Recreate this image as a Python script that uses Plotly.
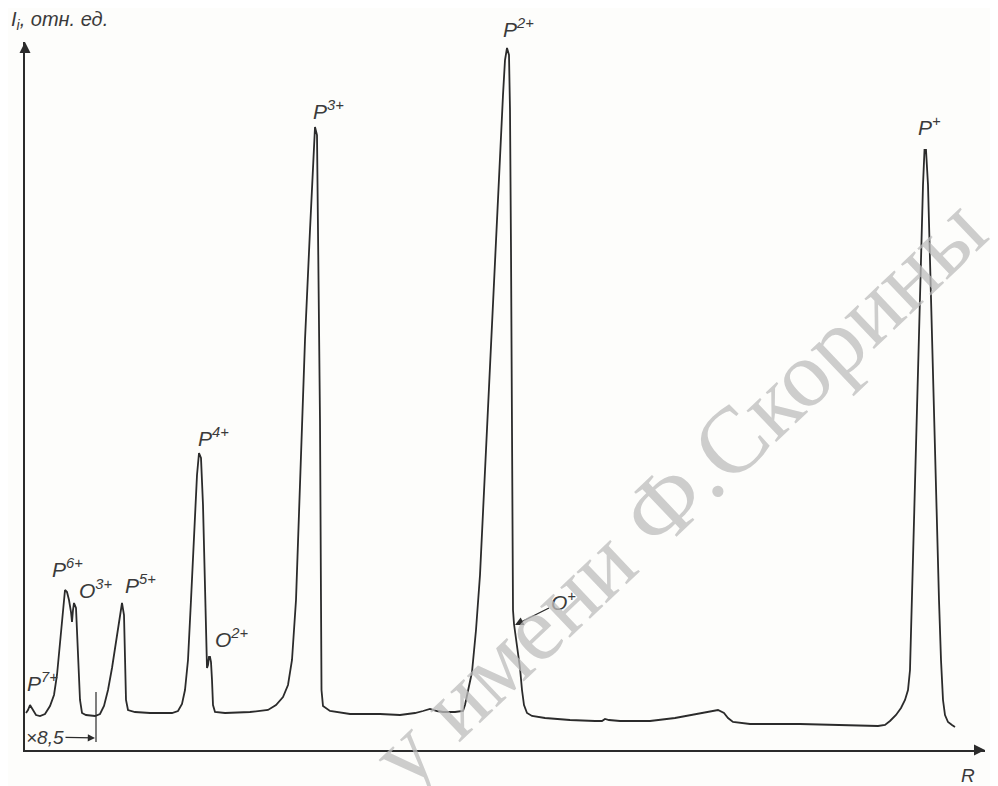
import plotly.graph_objects as go

# Traced spectrum: R (position along scan) and I (relative intensity)
R_values = [1, 3, 5, 8, 11, 15, 20, 25, 29, 32, 35, 38, 40, 42, 44, 46, 47, 48, 49, 51, 52, 53, 55, 57,
            61, 70, 75, 79, 83, 87, 91, 95, 97, 99, 100, 101, 103, 110, 125, 147, 153, 157, 160, 163,
            166, 169, 172, 174, 176, 178, 180, 181, 182, 183, 184, 185, 186, 187, 188, 190, 200, 225,
            243, 251, 258, 263, 267, 271, 275, 280, 285, 288, 290, 292, 294, 295, 296, 296.5, 298, 305,
            325, 355, 375, 390, 398, 405, 412, 418, 430, 438, 440, 443, 447, 451, 455, 461, 467, 473,
            478, 480, 482, 484, 485, 486, 487, 487.5, 488, 489, 492, 495, 497, 499, 502, 507, 520, 545,
            570, 577, 580, 584, 595, 625, 650, 670, 685, 693, 699, 703, 708, 725, 775, 825, 853, 860,
            865, 871, 876, 880, 883, 885, 887, 890, 893, 896, 898, 899.5, 901, 903, 905, 908, 911, 914,
            916, 918, 920, 923, 927, 930]
I_values = [37, 40, 45, 40, 35, 34, 36, 44, 55, 75, 110, 145, 160, 158, 150, 138, 128, 140, 147, 142,
            120, 85, 50, 37, 35, 34, 36, 44, 60, 82, 107, 135, 147, 135, 90, 50, 40, 38, 37, 37, 39,
            46, 60, 90, 150, 220, 275, 297, 292, 245, 170, 110, 82, 85, 93, 93, 88, 70, 45, 38, 37, 38,
            40, 45, 53, 65, 90, 150, 260, 410, 520, 580, 623, 615, 450, 330, 150, 60, 44, 39, 36, 36,
            35, 37, 39, 41, 39, 38, 38, 39, 45, 58, 78, 120, 175, 300, 430, 560, 655, 690, 702, 695,
            640, 500, 300, 190, 140, 126, 105, 82, 60, 45, 37, 34, 32, 30, 29, 29, 31, 30, 29, 29, 32,
            36, 39, 40, 37, 32, 28, 26, 26, 25, 24, 25, 29, 35, 42, 50, 60, 80, 150, 270, 380, 490,
            565, 600, 600, 565, 490, 370, 250, 150, 90, 50, 35, 28, 25, 23]

# Peak labels and their positions (R, I)
peak_labels = ["P<sup>7+</sup>", "P<sup>6+</sup>", "O<sup>3+</sup>", "P<sup>5+</sup>", "P<sup>4+</sup>",
               "O<sup>2+</sup>", "P<sup>3+</sup>", "P<sup>+</sup>"]
label_R = [17, 42, 71, 115, 188, 207, 303, 904]
label_I = [68, 182, 161, 166, 313, 112, 640, 624]

top_label = "P<sup>2+</sup>"          # label above the plot top (paper coords)
top_label_R, top_label_I = 493, 722

oplus_label = "O<sup>+</sup>"         # label with pointer arrow
oplus_text_R, oplus_text_I = 538, 149
oplus_tip_R, oplus_tip_I = 490, 125

x_title = "R"
y_title = "I<sub>i</sub>, отн. ед."
scale_note = "×8,5"
watermark = "у имени Ф.Скорины"

R_MAX, I_MAX = 960, 708
ink = "#2b2b2b"
txt = "#3a3a3a"
font_fam = "Liberation Sans, Arial, sans-serif"
bg = "#fdfdfb"
LBL = 21

fig = go.Figure()
fig.add_trace(go.Scatter(x=R_values, y=I_values, mode="lines",
                         line=dict(color=ink, width=1.8), hoverinfo="skip", showlegend=False))
# axis arrowheads
fig.add_trace(go.Scatter(x=[0, R_MAX], y=[I_MAX, 0], mode="markers", cliponaxis=False,
                         marker=dict(symbol=["arrow-up", "arrow-right"], size=11, color=ink),
                         hoverinfo="skip", showlegend=False))

ann = []
for t, x, y in zip(peak_labels, label_R, label_I):
    ann.append(dict(x=x, y=y, xref="x", yref="y", text="<i>" + t + "</i>", showarrow=False,
                    font=dict(family=font_fam, size=LBL, color=txt),
                    xanchor="center", yanchor="middle"))
ann.append(dict(x=top_label_R / R_MAX, y=top_label_I / I_MAX, xref="paper", yref="paper",
                text="<i>" + top_label + "</i>", showarrow=False,
                font=dict(family=font_fam, size=LBL, color=txt), xanchor="center", yanchor="middle"))
# O+ with pointer arrow
ann.append(dict(x=oplus_tip_R, y=oplus_tip_I, ax=oplus_text_R, ay=oplus_text_I,
                xref="x", yref="y", axref="x", ayref="y",
                text="<i>" + oplus_label + "</i>", font=dict(family=font_fam, size=LBL, color=txt),
                showarrow=True, arrowhead=2, arrowsize=1.3, arrowwidth=1.3, arrowcolor=ink))
# x8,5 note with arrow
ann.append(dict(x=70, y=12, ax=20, ay=13, xref="x", yref="y", axref="x", ayref="y",
                text="<i>" + scale_note + "</i>", font=dict(family=font_fam, size=19, color=txt),
                showarrow=True, arrowhead=2, arrowsize=1.2, arrowwidth=1.2, arrowcolor=ink))
# axis titles (paper coords, outside the axis ranges)
ann.append(dict(x=-16 / R_MAX, y=730 / I_MAX, xref="paper", yref="paper",
                text="<i>" + y_title + "</i>", showarrow=False,
                font=dict(family=font_fam, size=20, color=txt), xanchor="left", yanchor="middle"))
ann.append(dict(x=943 / R_MAX, y=-25 / I_MAX, xref="paper", yref="paper",
                text="<i>" + x_title + "</i>", showarrow=False,
                font=dict(family=font_fam, size=19, color=txt), xanchor="center", yanchor="middle"))
# watermark
ann.append(dict(x=652, y=258, xref="x", yref="y", text=watermark, showarrow=False, textangle=-43.5,
                font=dict(family="Liberation Serif, Times New Roman, serif", size=94, color="#bdbdbd"),
                opacity=0.75, xanchor="center", yanchor="middle"))

# page body has an 8px margin, so the figure is 990x778 to fill the 998x786 window
fig.update_layout(
    width=990, height=778,
    margin=dict(l=17, r=13, t=34, b=36),
    paper_bgcolor=bg, plot_bgcolor=bg,
    annotations=ann,
    shapes=[dict(type="line", xref="x", yref="y", x0=71, x1=71, y0=8, y1=58,
                 line=dict(color=ink, width=1.2))],
    xaxis=dict(range=[0, R_MAX], showline=True, linecolor=ink, linewidth=1.6, showgrid=False,
               zeroline=False, showticklabels=False, ticks=""),
    yaxis=dict(range=[0, I_MAX], showline=True, linecolor=ink, linewidth=1.6, showgrid=False,
               zeroline=False, showticklabels=False, ticks=""),
)

fig.write_html("out.html")
